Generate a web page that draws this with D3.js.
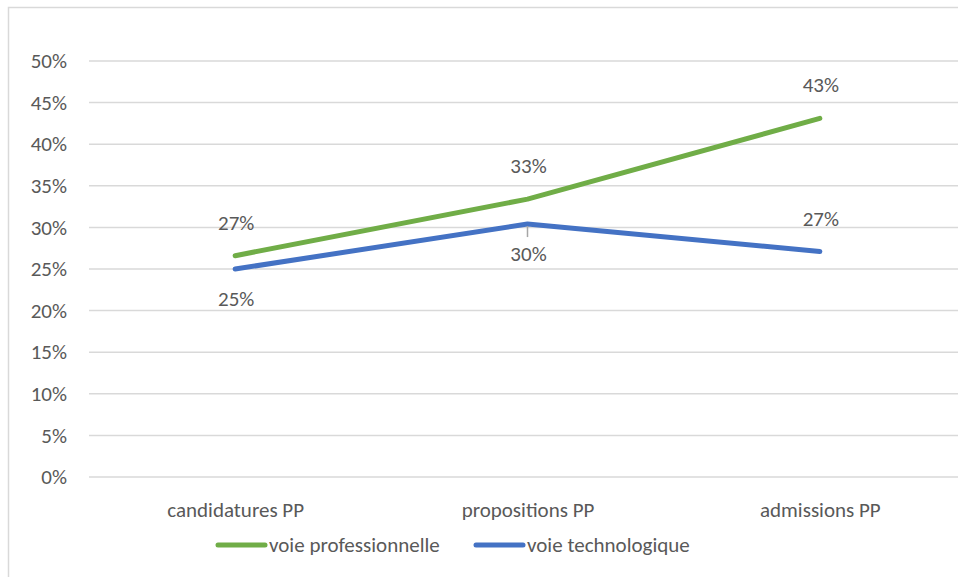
<!DOCTYPE html>
<html>
<head>
<meta charset="utf-8">
<script src="https://cdn.jsdelivr.net/npm/d3@7/dist/d3.min.js"></script>
<style>
  html, body { margin: 0; padding: 0; background: #fff; }
  svg { display: block; }
  text { font-family: Carlito, Calibri, Lato, "Open Sans", sans-serif; fill: #595959; }
</style>
</head>
<body>
<svg id="chart" width="958" height="577"></svg>
<script>
// Parts of the PP pipeline, in order
const categories = ["candidatures PP", "propositions PP", "admissions PP"];

// Share of each track at each stage
const seriesNames = ["voie professionnelle", "voie technologique"];
const proValues = [0.266, 0.334, 0.431];
const techValues = [0.250, 0.304, 0.271];

// Y axis ticks
const yTicks = [0, 0.05, 0.10, 0.15, 0.20, 0.25, 0.30, 0.35, 0.40, 0.45, 0.50];

const colors = ["#70AD47", "#4472C4"];
// where each data label sits relative to its point
const labelSides = [
  ["above", "above", "above"],
  ["below", "below", "above"]
];

const series = seriesNames.map((name, i) => ({
  name,
  values: [proValues, techValues][i],
  color: colors[i],
  sides: labelSides[i]
}));

const FONT = "Carlito, Calibri, Lato, 'Open Sans', sans-serif";
const FS = 21;

const svg = d3.select("#chart");
const fmt = d3.format(".0%");

// chart frame
svg.append("rect")
  .attr("x", 8.5).attr("y", 7.5)
  .attr("width", 980).attr("height", 600)
  .attr("fill", "none").attr("stroke", "#D9D9D9").attr("stroke-width", 1.5);

const plot = { left: 89, right: 966, top: 61, bottom: 477 };

const x = d3.scalePoint()
  .domain(categories)
  .range([plot.left, plot.right])
  .padding(0.5);

const y = d3.scaleLinear()
  .domain([0, 0.5])
  .range([plot.bottom, plot.top]);

// gridlines
svg.append("g")
  .selectAll("line")
  .data(yTicks)
  .join("line")
  .attr("x1", plot.left).attr("x2", plot.right)
  .attr("y1", d => y(d)).attr("y2", d => y(d))
  .attr("stroke", "#D9D9D9").attr("stroke-width", 1.5);

// y axis labels
const yAxis = d3.axisLeft(y).tickValues(yTicks).tickFormat(fmt).tickSize(0).tickPadding(0);
const gy = svg.append("g").attr("transform", "translate(67,0)").call(yAxis);
gy.select(".domain").remove();
gy.selectAll("text").attr("font-size", FS).attr("fill", "#595959")
  .style("font-family", FONT);

// x axis labels
const xAxis = d3.axisBottom(x).tickSize(0).tickPadding(0);
const gx = svg.append("g").attr("transform", "translate(0,502)").call(xAxis);
gx.select(".domain").remove();
gx.selectAll("text").attr("font-size", FS).attr("fill", "#595959")
  .style("font-family", FONT);

// series lines
const line = d3.line()
  .x((d, i) => x(categories[i]))
  .y(d => y(d));

svg.append("g")
  .selectAll("path")
  .data(series)
  .join("path")
  .attr("d", s => line(s.values))
  .attr("fill", "none")
  .attr("stroke", s => s.color)
  .attr("stroke-width", 5)
  .attr("stroke-linecap", "round")
  .attr("stroke-linejoin", "round");

// leader line for the label sitting on the blue line at the middle stage
const pt = { cat: categories[1], v: techValues[1] };
svg.append("line")
  .attr("x1", x(pt.cat)).attr("x2", x(pt.cat))
  .attr("y1", y(pt.v) + 2).attr("y2", y(pt.v) + 13)
  .attr("stroke", "#A6A6A6").attr("stroke-width", 1.5);

// data labels
series.forEach(s => {
  svg.append("g")
    .selectAll("text")
    .data(s.values)
    .join("text")
    .attr("x", (d, i) => x(categories[i]) + 1)
    .attr("y", (d, i) => y(d) + (s.sides[i] === "above" ? -33 : 30))
    .attr("text-anchor", "middle")
    .attr("dominant-baseline", "central")
    .attr("font-size", FS)
    .text(d => fmt(d));
});

// legend
const legend = svg.append("g").attr("transform", "translate(0,545)");
const legendItems = [
  { name: seriesNames[0], color: colors[0], x0: 218, x1: 265, tx: 269 },
  { name: seriesNames[1], color: colors[1], x0: 476, x1: 523, tx: 527 }
];
legendItems.forEach(it => {
  legend.append("line")
    .attr("x1", it.x0).attr("x2", it.x1)
    .attr("y1", 0).attr("y2", 0)
    .attr("stroke", it.color).attr("stroke-width", 5)
    .attr("stroke-linecap", "round");
  legend.append("text")
    .attr("x", it.tx).attr("y", 0)
    .attr("dominant-baseline", "central")
    .attr("font-size", FS)
    .text(it.name);
});
</script>
</body>
</html>
